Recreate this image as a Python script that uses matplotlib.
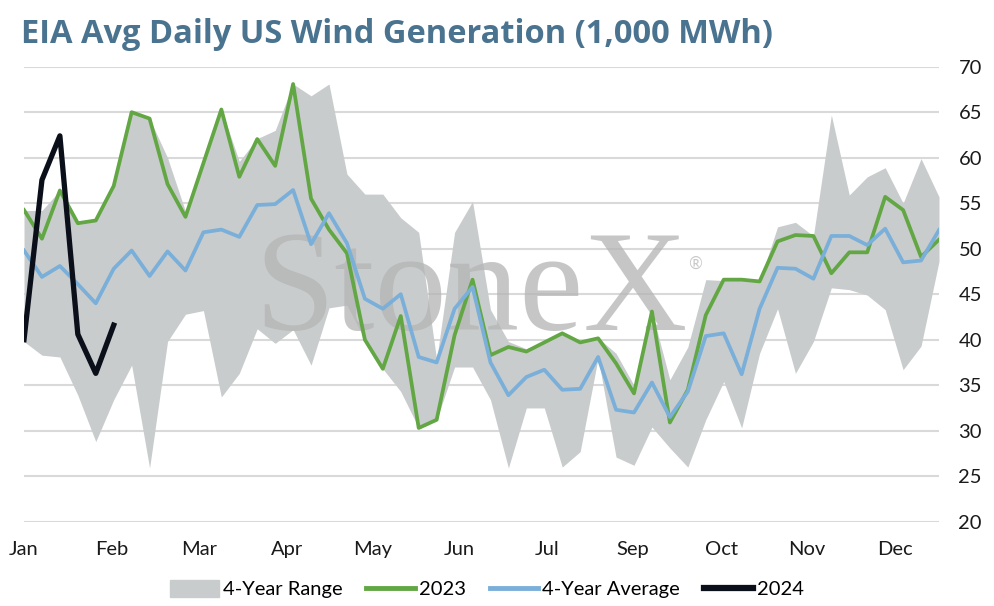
import numpy as np
import matplotlib.pyplot as plt
from matplotlib.patches import Patch
from matplotlib.lines import Line2D

# weekly data, 52 weeks
weeks = np.arange(52)

range_hi = [54.2, 54.2, 56.4, 53.0, 53.1, 56.9, 65.0, 64.3, 60.0, 54.1,
            59.4, 65.3, 59.6, 62.1, 63.0, 68.1, 66.8, 68.1, 58.2, 56.0,
            56.0, 53.4, 51.8, 37.8, 51.8, 55.2, 43.3, 39.8, 39.0, 39.7,
            40.7, 39.7, 40.2, 38.5, 35.0, 43.1, 35.6, 39.2, 46.6, 46.5,
            46.6, 46.4, 52.4, 52.9, 51.4, 64.7, 55.9, 57.9, 58.9, 55.0,
            59.9, 55.7]
range_lo = [39.8, 38.3, 38.1, 33.9, 28.8, 33.4, 37.2, 25.9, 39.8, 42.8,
            43.2, 33.7, 36.3, 41.2, 39.6, 41.1, 37.2, 43.5, 43.8, 40.0,
            36.8, 34.3, 30.3, 31.2, 37.0, 37.0, 33.4, 25.9, 32.5, 32.5,
            26.0, 27.7, 38.0, 27.1, 26.2, 30.4, 28.1, 26.0, 31.2, 35.4,
            30.3, 38.5, 43.4, 36.3, 39.8, 45.7, 45.5, 44.9, 43.3, 36.7,
            39.3, 48.6]
y2023 = [54.25, 51.1, 56.4, 52.8, 53.1, 56.9, 65.0, 64.3, 57.1, 53.5,
         59.4, 65.3, 57.9, 62.05, 59.1, 68.1, 55.5, 52.1, 49.5, 40.0,
         36.8, 42.6, 30.3, 31.2, 40.5, 46.6, 38.3, 39.2, 38.7, 39.7,
         40.7, 39.7, 40.15, 37.4, 34.1, 43.1, 30.9, 34.5, 42.7, 46.6,
         46.6, 46.4, 50.8, 51.5, 51.4, 47.3, 49.6, 49.6, 55.7, 54.25,
         49.1, 51.0]
avg4 = [49.8, 46.9, 48.1, 46.1, 44.0, 47.8, 49.8, 47.0, 49.7, 47.6,
        51.8, 52.1, 51.3, 54.8, 54.9, 56.45, 50.5, 53.9, 50.6, 44.5,
        43.4, 45.0, 38.1, 37.5, 43.4, 45.8, 37.5, 33.9, 35.9, 36.7,
        34.5, 34.6, 38.1, 32.3, 32.0, 35.3, 31.5, 34.3, 40.4, 40.7,
        36.2, 43.4, 47.9, 47.8, 46.7, 51.4, 51.4, 50.4, 52.2, 48.5,
        48.7, 52.05]
y2024 = [40.0, 57.55, 62.4, 40.6, 36.3, 41.6]

month_labels = ["Jan", "Feb", "Mar", "Apr", "May", "Jun", "Jul", "Sep", "Oct", "Nov", "Dec"]
month_pos = [0, 4.9, 9.75, 14.65, 19.45, 24.25, 29.15, 33.95, 38.85, 43.65, 48.55]

c_band = "#c9cccd"
c_green = "#62a744"
c_blue = "#7aafd9"
c_black = "#0a0f1a"

plt.rcParams["font.family"] = ["Lato", "DejaVu Sans"]

fig = plt.figure(figsize=(9.94, 6.06), dpi=100)
ax = fig.add_axes([24 / 994, 1 - 521.7 / 606, 915 / 994, (521.7 - 66.7) / 606])

ax.fill_between(weeks, range_lo, range_hi, color=c_band, linewidth=0, zorder=1)
ax.plot(weeks, y2023, color=c_green, lw=2.7, zorder=3)
ax.plot(weeks, avg4, color=c_blue, lw=2.7, zorder=4)
ax.plot(weeks[:len(y2024)], y2024, color=c_black, lw=3.8, zorder=5)

# watermark
ax.text(0.4885, 0.421, "StoneX", transform=ax.transAxes, ha="center", va="baseline",
        fontsize=104, family="Liberation Serif", color="#b4b4b4", alpha=0.75, zorder=2)
ax.text(0.733, 0.566, "®", transform=ax.transAxes, ha="center", va="center",
        fontsize=12, color="#c8c8c8", zorder=2)

ax.set_xlim(0, 51)
ax.set_ylim(20, 70)
ax.set_yticks(range(20, 71, 5))
ax.yaxis.tick_right()
ax.set_xticks(month_pos)
ax.set_xticklabels(month_labels)
ax.tick_params(axis="both", length=0, labelsize=14.5, colors="#1a1a1a")
ax.tick_params(axis="y", pad=14)
ax.tick_params(axis="x", pad=14)
ax.grid(axis="y", color="#d9d9d9", lw=1.5, zorder=0)
ax.set_axisbelow(True)
for s in ax.spines.values():
    s.set_visible(False)

fig.text(21 / 994, 1 - 18 / 606, "EIA Avg Daily US Wind Generation (1,000 MWh)",
         ha="left", va="top", fontsize=23.5, fontweight="bold", color="#4a7390",
         family=["Open Sans", "DejaVu Sans"])

handles = [Patch(color=c_band, label="4-Year Range"),
           Line2D([], [], color=c_green, lw=3.5, label="2023"),
           Line2D([], [], color=c_blue, lw=3.5, label="4-Year Average"),
           Line2D([], [], color=c_black, lw=4.5, label="2024")]
fig.legend(handles=handles, loc="center", bbox_to_anchor=(487 / 994, 1 - 589 / 606),
           ncol=4, frameon=False, fontsize=14.5, handlelength=2.4, handleheight=0.9,
           handletextpad=0.2, columnspacing=1.2)

fig.savefig("out.png", dpi=100)
